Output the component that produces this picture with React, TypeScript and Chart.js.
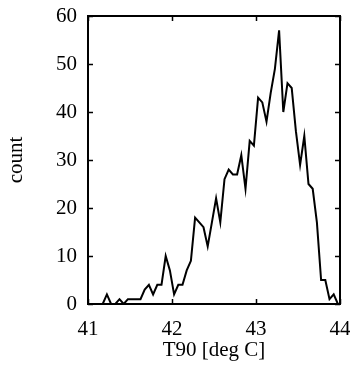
import React, { useEffect, useRef } from "react";
import { Chart, registerables } from "chart.js";

Chart.register(...registerables);

const binCenters = [
  41.025, 41.075, 41.125, 41.175, 41.225, 41.275, 41.325, 41.375, 41.425, 41.475,
  41.525, 41.575, 41.625, 41.675, 41.725, 41.775, 41.825, 41.875, 41.925, 41.975,
  42.025, 42.075, 42.125, 42.175, 42.225, 42.275, 42.325, 42.375, 42.425, 42.475,
  42.525, 42.575, 42.625, 42.675, 42.725, 42.775, 42.825, 42.875, 42.925, 42.975,
  43.025, 43.075, 43.125, 43.175, 43.225, 43.275, 43.325, 43.375, 43.425, 43.475,
  43.525, 43.575, 43.625, 43.675, 43.725, 43.775, 43.825, 43.875, 43.925, 43.975,
];

const counts = [
  0, 0, 0, 0, 2, 0, 0, 1, 0, 1,
  1, 1, 1, 3, 4, 2, 4, 4, 10, 7,
  2, 4, 4, 7, 9, 18, 17, 16, 12, 17,
  22, 17, 26, 28, 27, 27, 31, 24, 34, 33,
  43, 42, 38, 44, 49, 57, 40, 46, 45, 36,
  29, 35, 25, 24, 17, 5, 5, 1, 2, 0,
];

const xTicks = [41, 42, 43, 44];
const yTicks = [0, 10, 20, 30, 40, 50, 60];

const xLabel = "T90 [deg C]";
const yLabel = "count";

const FONT = "'Liberation Serif', 'Times New Roman', serif";
const FSIZE = 21;

Chart.defaults.font.family = FONT;
Chart.defaults.font.size = FSIZE;
Chart.defaults.color = "#000";

const framePlugin = {
  id: "frame",
  afterDraw(chart: any) {
    const { ctx, chartArea } = chart;
    const { left, right, top, bottom } = chartArea;
    const xs = chart.scales.x;
    const ys = chart.scales.y;
    ctx.save();
    ctx.strokeStyle = "#000";
    ctx.lineWidth = 1.5;
    const tl = 5;
    ctx.beginPath();
    xTicks.forEach((v) => {
      const px = Math.round(xs.getPixelForValue(v)) + 0.5;
      ctx.moveTo(px, bottom);
      ctx.lineTo(px, bottom - tl);
      ctx.moveTo(px, top);
      ctx.lineTo(px, top + tl);
    });
    yTicks.forEach((v) => {
      const py = Math.round(ys.getPixelForValue(v)) + 0.5;
      ctx.moveTo(left, py);
      ctx.lineTo(left + tl, py);
      ctx.moveTo(right, py);
      ctx.lineTo(right - tl, py);
    });
    ctx.stroke();
    ctx.lineWidth = 2;
    ctx.strokeRect(left, top, right - left, bottom - top);
    ctx.restore();
  },
};

export default function App() {
  const ref = useRef<HTMLCanvasElement | null>(null);

  useEffect(() => {
    document.body.style.margin = "0";
    const canvas = ref.current;
    if (!canvas) return;
    const chart = new Chart(canvas, {
      type: "line",
      data: {
        datasets: [
          {
            data: binCenters.map((x, i) => ({ x, y: counts[i] })),
            borderColor: "#000",
            borderWidth: 2,
            pointRadius: 0,
            tension: 0,
            fill: false,
          },
        ],
      },
      options: {
        animation: false,
        responsive: false,
        maintainAspectRatio: false,
        layout: { padding: { top: 16, right: 10, left: 0, bottom: 0 } },
        plugins: {
          legend: { display: false },
          tooltip: { enabled: false },
        },
        scales: {
          x: {
            type: "linear",
            min: 41,
            max: 44,
            afterBuildTicks: (scale: any) => {
              scale.ticks = xTicks.map((v) => ({ value: v }));
            },
            afterFit: (scale: any) => {
              scale.height = 63;
              scale.paddingLeft = 0;
              scale.paddingRight = 0;
            },
            grid: { display: false, drawTicks: false },
            border: { display: false },
            ticks: {
              color: "#000",
              font: { family: FONT, size: FSIZE },
              padding: 13,
              maxRotation: 0,
              autoSkip: false,
            },
            title: {
              display: true,
              text: xLabel,
              color: "#000",
              font: { family: FONT, size: FSIZE },
              padding: { top: 0, bottom: 4 },
            },
          },
          y: {
            type: "linear",
            min: 0,
            max: 60,
            afterBuildTicks: (scale: any) => {
              scale.ticks = yTicks.map((v) => ({ value: v }));
            },
            afterFit: (scale: any) => {
              scale.width = 88;
              scale.paddingTop = 0;
              scale.paddingBottom = 0;
            },
            grid: { display: false, drawTicks: false },
            border: { display: false },
            ticks: {
              color: "#000",
              font: { family: FONT, size: FSIZE },
              padding: 11,
              autoSkip: false,
            },
            title: {
              display: true,
              text: yLabel,
              color: "#000",
              font: { family: FONT, size: FSIZE },
              padding: { top: 4, bottom: 4 },
            },
          },
        },
      },
      plugins: [framePlugin],
    });
    return () => chart.destroy();
  }, []);

  return (
    <div style={{ width: 350, height: 367 }}>
      <canvas ref={ref} width={350} height={367} style={{ display: "block" }} />
    </div>
  );
}
